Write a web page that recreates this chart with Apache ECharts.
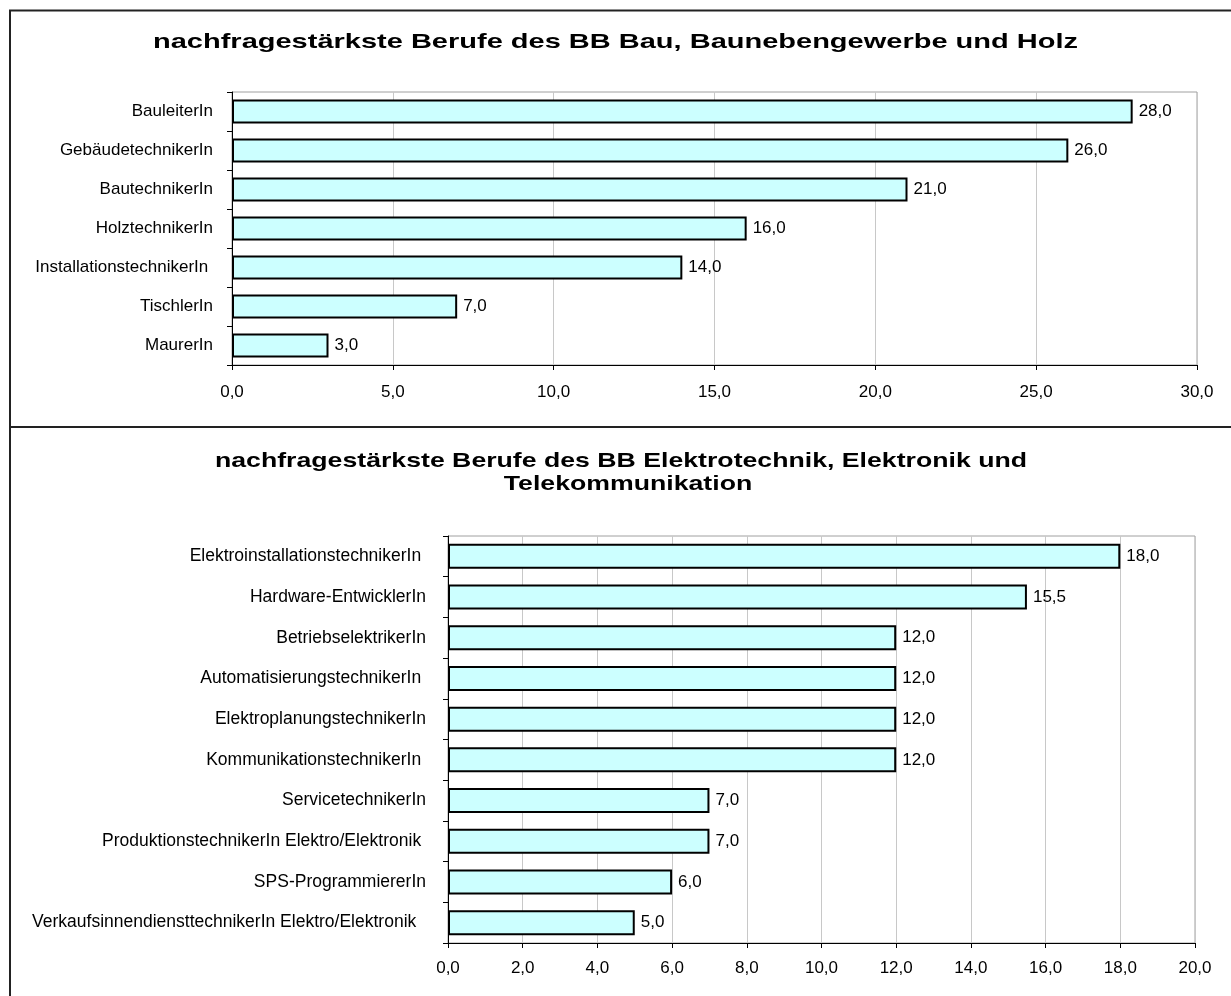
<!DOCTYPE html>
<html>
<head>
<meta charset="utf-8">
<script src="https://cdn.jsdelivr.net/npm/echarts@6/dist/echarts.min.js"></script>
<style>
html,body{margin:0;padding:0;background:#fff;}
#chart{width:1231px;height:996px;}
</style>
</head>
<body>
<div id="chart"></div>
<script>
// ---- data ----
const titleTop = 'nachfragestärkste Berufe des BB Bau, Baunebengewerbe und Holz';
const categoriesTop = ['BauleiterIn', 'GebäudetechnikerIn', 'BautechnikerIn', 'HolztechnikerIn', 'InstallationstechnikerIn ', 'TischlerIn', 'MaurerIn'];
const valuesTop = [28, 26, 21, 16, 14, 7, 3];
const axisTop = {min: 0, max: 30, interval: 5};

const titleBottomLine1 = 'nachfragestärkste Berufe des BB Elektrotechnik, Elektronik und';
const titleBottomLine2 = 'Telekommunikation';
const categoriesBottom = ['ElektroinstallationstechnikerIn ', 'Hardware-EntwicklerIn', 'BetriebselektrikerIn', 'AutomatisierungstechnikerIn ', 'ElektroplanungstechnikerIn', 'KommunikationstechnikerIn ', 'ServicetechnikerIn', 'ProduktionstechnikerIn Elektro/Elektronik ', 'SPS-ProgrammiererIn', 'VerkaufsinnendiensttechnikerIn Elektro/Elektronik  '];
const valuesBottom = [18, 15.5, 12, 12, 12, 12, 7, 7, 6, 5];
const axisBottom = {min: 0, max: 20, interval: 2};

// ---- chart ----
const FONT = '"Liberation Sans", Arial, sans-serif';
const TITLE_FONT = 'bold 21px "Liberation Sans", Arial, sans-serif';
const fmt = v => Number(v).toFixed(1).replace('.', ',');
const chart = echarts.init(document.getElementById('chart'), null, {renderer: 'canvas'});

// horizontal stretch so titles match the reference's wide lettering
const mctx = document.createElement('canvas').getContext('2d');
mctx.font = TITLE_FONT;
const scaleFor = (txt, target) => target / mctx.measureText(txt).width;
const sTop = scaleFor(titleTop, 925);
const sBot = scaleFor(titleBottomLine1, 812);

function xAx(gi, ax, margin) {
  return {
    type: 'value', gridIndex: gi, min: ax.min, max: ax.max, interval: ax.interval,
    axisLine: {show: true, lineStyle: {color: '#000', width: 1}},
    axisTick: {show: true, length: 5, lineStyle: {color: '#000'}},
    axisLabel: {formatter: fmt, color: '#000', fontSize: 17, fontFamily: FONT, margin: margin},
    splitLine: {show: true, lineStyle: {color: '#c8c8c8', width: 1}}
  };
}
function yAx(gi, cats, margin, fs) {
  return {
    type: 'category', gridIndex: gi, data: cats, inverse: true,
    axisLine: {show: true, lineStyle: {color: '#000', width: 1}},
    axisTick: {show: true, length: 5, lineStyle: {color: '#000'}},
    axisLabel: {color: '#000', fontSize: fs, fontFamily: FONT, margin: margin},
    splitLine: {show: false}
  };
}
function barS(idx, vals, bw) {
  return {
    type: 'bar', xAxisIndex: idx, yAxisIndex: idx, data: vals, barWidth: bw,
    itemStyle: {color: '#ccffff', borderColor: '#000', borderWidth: 2},
    label: {show: true, position: 'right', distance: 6, formatter: p => fmt(p.value),
      color: '#000', fontSize: 17, fontFamily: FONT},
    animation: false
  };
}

chart.setOption({
  animation: false,
  backgroundColor: '#fff',
  graphic: [
    {type: 'text', x: 615.5, y: 42, scaleX: sTop, silent: true,
      style: {text: titleTop, font: TITLE_FONT, fill: '#000', align: 'center', verticalAlign: 'middle'}},
    {type: 'text', x: 621, y: 461, scaleX: sBot, silent: true,
      style: {text: titleBottomLine1, font: TITLE_FONT, fill: '#000', align: 'center', verticalAlign: 'middle'}},
    {type: 'text', x: 628, y: 484, scaleX: sBot, silent: true,
      style: {text: titleBottomLine2, font: TITLE_FONT, fill: '#000', align: 'center', verticalAlign: 'middle'}},
    {type: 'rect', shape: {x: 10, y: 10.5, width: 1300, height: 416.5}, style: {fill: 'none', stroke: '#222', lineWidth: 2}, z: 100, silent: true},
    {type: 'rect', shape: {x: 10, y: 427, width: 1300, height: 700}, style: {fill: 'none', stroke: '#222', lineWidth: 2}, z: 100, silent: true}
  ],
  grid: [
    {left: 232, top: 92, width: 965, height: 273, show: true, borderColor: '#a0a0a0', borderWidth: 1, containLabel: false},
    {left: 448, top: 536, width: 747, height: 407, show: true, borderColor: '#a0a0a0', borderWidth: 1, containLabel: false}
  ],
  xAxis: [xAx(0, axisTop, 19), xAx(1, axisBottom, 17)],
  yAxis: [yAx(0, categoriesTop, 19, 17), yAx(1, categoriesBottom, 22, 17.5)],
  series: [barS(0, valuesTop, 24), barS(1, valuesBottom, 25)]
});
</script>
</body>
</html>
